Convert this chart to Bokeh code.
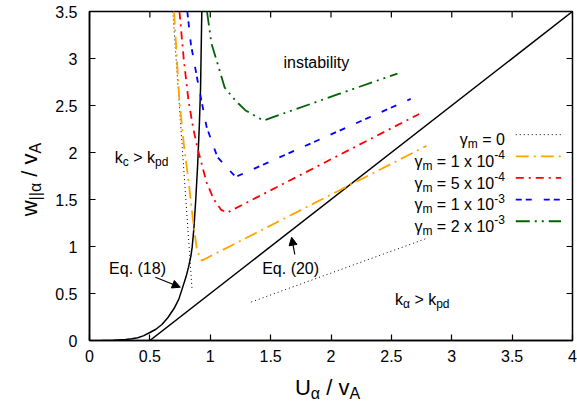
import math
from bokeh.plotting import figure
from bokeh.layouts import column, row
from bokeh.models import (Range1d, FixedTicker, NumeralTickFormatter, Label, Arrow, NormalHead)
from bokeh.embed import file_html
from bokeh.resources import INLINE

nan = float("nan")

# ---------------- data ----------------
x_ticks = [0, 0.5, 1, 1.5, 2, 2.5, 3, 3.5, 4]
y_ticks = [0, 0.5, 1, 1.5, 2, 2.5, 3, 3.5]

# Eq. (20): straight line
u_eq20 = [0.5, 4.0]
w_eq20 = [0.0, 3.5]

# Eq. (18): steep curve
u_eq18 = [0.10, 0.20, 0.30, 0.35, 0.40, 0.45, 0.50, 0.55, 0.60, 0.65, 0.70, 0.74, 0.77,
          0.80, 0.82, 0.84, 0.85, 0.865, 0.88, 0.895, 0.91, 0.92, 0.93]
w_eq18 = [0.0, 0.003, 0.010, 0.018, 0.030, 0.052, 0.085, 0.12, 0.17, 0.245, 0.34, 0.44, 0.56,
          0.68, 0.78, 0.90, 0.99, 1.20, 1.50, 1.85, 2.30, 2.70, 3.5]

# gamma_m = 0 (two dotted branches)
u_g0 = [0.69, 0.77, 0.85, nan, 1.34, 2.80]
w_g0 = [3.5, 2.02, 0.53, nan, 0.41, 1.09]

# gamma_m = 1e-4
u_g1 = [0.70, 0.745, 0.78, 0.82, 0.86, 0.89, 0.93, 2.79]
w_g1 = [3.5, 2.55, 2.10, 1.70, 1.25, 0.96, 0.85, 2.07]

# gamma_m = 5e-4
u_g5 = [0.745, 0.78, 0.82, 0.86, 0.90, 0.97, 1.03, 1.09, 1.14, 2.73]
w_g5 = [3.5, 3.0, 2.55, 2.25, 2.02, 1.68, 1.50, 1.39, 1.36, 2.41]

# gamma_m = 1e-3
u_g10 = [0.81, 0.84, 0.90, 0.97, 1.06, 1.21, 2.66]
w_g10 = [3.5, 3.15, 2.73, 2.27, 1.95, 1.74, 2.57]

# gamma_m = 2e-3
u_g20 = [0.973, 1.01, 1.12, 1.21, 1.29, 1.44, 2.06, 2.55]
w_g20 = [3.5, 3.16, 2.69, 2.55, 2.45, 2.34, 2.62, 2.84]

series_u = [u_g0, u_g1, u_g5, u_g10, u_g20]
series_w = [w_g0, w_g1, w_g5, w_g10, w_g20]
series_colors = ["#000000", "#FFA500", "#FF0000", "#0000FF", "#006400"]
series_dash = ["1 3", "13 5 2 5", "8 5 2 5", "6 4 6 12", "14 5 2 5 2 5"]
series_width = [1.0, 1.8, 1.8, 1.8, 1.8]
legend_parts = [
    [("γ", "n"), ("m", "sub"), (" = 0", "n")],
    [("γ", "n"), ("m", "sub"), (" = 1 x 10", "n"), ("-4", "sup")],
    [("γ", "n"), ("m", "sub"), (" = 5 x 10", "n"), ("-4", "sup")],
    [("γ", "n"), ("m", "sub"), (" = 1 x 10", "n"), ("-3", "sup")],
    [("γ", "n"), ("m", "sub"), (" = 2 x 10", "n"), ("-3", "sup")],
]

# text annotations: (x, y, parts)
annotations = [
    (1.606, 2.954, [("instability", "n")]),
    (0.21, 1.95, [("k", "n"), ("c", "sub"), (" > k", "n"), ("pd", "sub")]),
    (0.162, 0.763, [("Eq. (18)", "n")]),
    (1.43, 0.763, [("Eq. (20)", "n")]),
    (2.53, 0.44, [("k", "n"), ("α", "sub"), (" > k", "n"), ("pd", "sub")]),
]
# arrows: (x_start, y_start, x_end, y_end)
arrows = [
    (0.546, 0.673, 0.752, 0.567),
    (1.700, 0.915, 1.674, 1.099),
]

x_title = [("U", "n"), ("α", "sub"), (" / v", "n"), ("A", "sub")]
y_title = [("w", "n"), ("||α", "sub"), (" / v", "n"), ("A", "sub")]

FONT = "Liberation Sans"

# Helvetica/Arial advance widths (per 1000 em)
WID = {' ': 278, '>': 584, '(': 333, ')': 333, '.': 278, 'E': 667, 'q': 556, 'k': 500,
       'c': 500, 'p': 556, 'd': 556, 'U': 722, 'v': 500, 'A': 667, '/': 278, 'w': 722,
       '|': 260, 'α': 579, 'γ': 500, 'm': 833, '=': 584, 'x': 500, '-': 333, 'i': 222,
       'n': 556, 's': 500, 't': 278, 'a': 556, 'b': 556, 'l': 222, 'y': 500}
for ch in "0123456789":
    WID[ch] = 556


def text_width(s, size):
    return sum(WID.get(ch, 556) for ch in s) * size / 1000.0


def rich(fig, x, y, parts, size, angle=0.0, align="left"):
    """Draw text with sub/superscripts as a run of Labels (spaces become advances)."""
    sub_size = round(size * 0.72)
    items = []
    for t, kind in parts:
        fs = size if kind == "n" else sub_size
        items.append((t, kind, fs, text_width(t, fs)))
    total = sum(it[3] for it in items)
    pos = 0.0 if align == "left" else (-total if align == "right" else -total / 2)
    for t, kind, fs, wdt in items:
        lead = len(t) - len(t.lstrip(" "))
        body = t.strip(" ")
        start = pos + text_width(" " * lead, fs)
        shift = 0.0 if kind == "n" else (-0.28 * size if kind == "sub" else 0.42 * size)
        if angle == 0.0:
            xo, yo = start, shift
        else:
            xo, yo = -shift, start
        if body:
            fig.add_layout(Label(x=x, y=y, text=body, text_font=FONT, text_font_size=f"{fs}px",
                                 text_color="black", text_align="left",
                                 text_baseline="alphabetic",
                                 x_offset=xo, y_offset=yo, angle=angle))
        pos += wdt


# ---------------- main plot ----------------
MAIN_W, MAIN_H = 525, 370
YT_W = 577 - MAIN_W
XT_H = 405 - MAIN_H

p = figure(width=MAIN_W, height=MAIN_H, x_range=Range1d(0, 4), y_range=Range1d(0, 3.5),
           output_backend="svg", toolbar_location=None,
           min_border_left=87 - YT_W, min_border_right=5, min_border_top=11, min_border_bottom=30)
p.grid.visible = False
p.outline_line_color = "black"
p.outline_line_width = 1.5
p.background_fill_color = "white"
p.border_fill_color = "white"


def style_axis(ax, ticks, standoff):
    ax.ticker = FixedTicker(ticks=ticks)
    ax.formatter = NumeralTickFormatter(format="0.[0]")
    ax.axis_line_color = "black"
    ax.axis_line_width = 1.5
    ax.major_tick_line_color = "black"
    ax.major_tick_line_width = 1.2
    ax.major_tick_in = 6
    ax.major_tick_out = 0
    ax.minor_tick_line_color = None
    ax.major_label_text_font = FONT
    ax.major_label_text_color = "black"
    ax.major_label_text_font_size = "16px"
    ax.major_label_standoff = standoff


style_axis(p.xaxis[0], x_ticks, 9)
style_axis(p.yaxis[0], y_ticks, 12)

# mirrored ticks on the top and right edges (gnuplot style), from the tick lists
tick_dx = 6 / (485 / 4.0)
tick_dy = 6 / (329 / 3.5)
p.segment(x0=x_ticks, y0=[3.5] * len(x_ticks), x1=x_ticks, y1=[3.5 - tick_dy] * len(x_ticks),
          line_color="black", line_width=1.2)
p.segment(x0=[4.0] * len(y_ticks), y0=y_ticks, x1=[4.0 - tick_dx] * len(y_ticks), y1=y_ticks,
          line_color="black", line_width=1.2)

# curves
p.line(u_eq20, w_eq20, line_color="black", line_width=1.5)
p.line(u_eq18, w_eq18, line_color="black", line_width=1.5)
for u, w, c, d, lw in zip(series_u, series_w, series_colors, series_dash, series_width):
    p.line(u, w, line_color=c, line_width=lw, line_dash=d)

# arrows
for xs, ys, xe, ye in arrows:
    p.add_layout(Arrow(x_start=xs, y_start=ys, x_end=xe, y_end=ye,
                       line_color="black", line_width=1.2,
                       end=NormalHead(size=8, fill_color="black", line_color="black", line_width=1)))

for ax_, ay_, parts in annotations:
    rich(p, ax_, ay_, parts, 16)

# legend (text right-aligned, sample on the right)
LEG_X_TEXT = 3.44
LEG_X0, LEG_X1 = 3.53, 3.905
LEG_Y0, LEG_DY = 2.135, 0.2303
for i, parts in enumerate(legend_parts):
    yb = LEG_Y0 - i * LEG_DY
    rich(p, LEG_X_TEXT, yb, parts, 16, align="right")
    ys = yb + 0.055
    p.line([LEG_X0, LEG_X1], [ys, ys], line_color=series_colors[i],
           line_width=series_width[i], line_dash=series_dash[i])

# ---------------- axis titles (separate strips so they are not clipped) ----------------
yfig = figure(width=YT_W, height=MAIN_H, x_range=Range1d(0, YT_W), y_range=Range1d(0, MAIN_H),
              output_backend="svg", toolbar_location=None, min_border=0,
              x_axis_location=None, y_axis_location=None)
yfig.grid.visible = False
yfig.outline_line_color = None
yfig.border_fill_color = "white"
rich(yfig, 29, MAIN_H - 189, y_title, 22, angle=math.pi / 2, align="center")

xfig = figure(width=577, height=XT_H, x_range=Range1d(0, 577), y_range=Range1d(0, XT_H),
              output_backend="svg", toolbar_location=None, min_border=0,
              x_axis_location=None, y_axis_location=None)
xfig.grid.visible = False
xfig.outline_line_color = None
xfig.border_fill_color = "white"
rich(xfig, 327, 405 - 387, x_title, 22, align="center")

layout = column(row(yfig, p), xfig)

open("out.html", "w").write(file_html(layout, INLINE))
